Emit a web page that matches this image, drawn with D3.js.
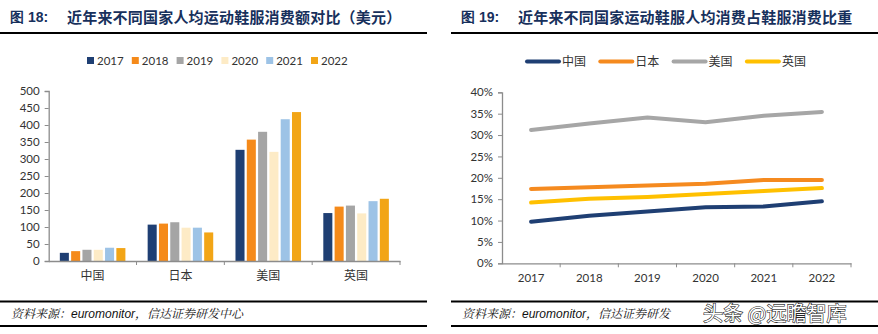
<!DOCTYPE html>
<html>
<head>
<meta charset="utf-8">
<script src="https://cdn.jsdelivr.net/npm/d3@7/dist/d3.min.js"></script>
<style>
  body { margin: 0; background: #fff; }
  svg { display: block; }
  text { font-family: Lato, "Noto Sans CJK SC", sans-serif; }
</style>
</head>
<body>
<svg id="chart" width="878" height="334"></svg>
<script>
  'use strict';

  // chart 18: spend per person (USD)
  var countries = ['中国', '日本', '美国', '英国'];
  var years = ['2017', '2018', '2019', '2020', '2021', '2022'];
  var spend2017 = [24, 107, 327, 141];
  var spend2018 = [29, 110, 357, 160];
  var spend2019 = [33, 114, 380, 163];
  var spend2020 = [33, 98, 321, 140];
  var spend2021 = [39, 98, 417, 176];
  var spend2022 = [38, 84, 438, 183];
  var spendTicks = [0, 50, 100, 150, 200, 250, 300, 350, 400, 450, 500];

  // chart 19: share of footwear & apparel spend (%)
  var shareChina = [9.7, 11.1, 12.1, 13.1, 13.3, 14.5];
  var shareJapan = [17.4, 17.8, 18.2, 18.6, 19.5, 19.5];
  var shareUS = [31.2, 32.7, 34.1, 33.0, 34.5, 35.4];
  var shareUK = [14.2, 15.1, 15.5, 16.2, 16.9, 17.6];
  var shareTicks = [0, 5, 10, 15, 20, 25, 30, 35, 40];

  var yearColors = ['#1f3f73', '#f58a1a', '#a5a5a5', '#fdebc6', '#9dc3e6', '#f2a516'];
  var lineColors = ['#1f3f73', '#f58a1f', '#a6a6a6', '#ffc000'];
  var titleColor = '#17305c';
  var axisColor = '#8c8c8c';
  var textColor = '#333';

  var svg = d3.select('#chart');

  // ---- headers and footers ----
  function frame(x0, x1, fig, title, footer) {
    svg.append('text')
      .attr('x', x0 + 10).attr('y', 22)
      .attr('fill', titleColor)
      .style('font-family', '"Liberation Sans", Arial, sans-serif')
      .style('font-weight', 'bold').style('font-size', '14px')
      .text(fig);
    svg.append('text')
      .attr('x', x0 + 67).attr('y', 22.5)
      .attr('fill', titleColor)
      .style('font-family', '"Noto Sans CJK SC", sans-serif')
      .style('font-weight', 'bold').style('font-size', '15px')
      .style('letter-spacing', '0.2px')
      .text(title);
    svg.append('rect').attr('x', x0).attr('y', 32).attr('width', x1 - x0).attr('height', 2).attr('fill', '#000');
    svg.append('rect').attr('x', x0).attr('y', 300.5).attr('width', x1 - x0).attr('height', 2).attr('fill', '#000');
    svg.append('rect').attr('x', x0).attr('y', 325).attr('width', x1 - x0).attr('height', 2).attr('fill', '#000');
    var ft = svg.append('text')
      .attr('x', x0 + 11).attr('y', 318)
      .style('font-size', '12px').attr('fill', '#111');
    ft.append('tspan')
      .style('font-family', '"Noto Serif CJK SC", "Noto Sans CJK SC", serif')
      .style('font-style', 'italic')
      .text('资料来源：');
    ft.append('tspan')
      .style('font-family', '"Liberation Sans", Arial, sans-serif')
      .style('font-style', 'italic')
      .text('euromonitor');
    ft.append('tspan')
      .style('font-family', '"Noto Serif CJK SC", "Noto Sans CJK SC", serif')
      .style('font-style', 'italic')
      .text(footer);
  }

  frame(0, 427, '图 18:', '近年来不同国家人均运动鞋服消费额对比（美元）', '，信达证券研发中心');
  frame(451, 878, '图 19:', '近年来不同国家运动鞋服人均消费占鞋服消费比重', '，信达证券研发');

  // ---- left: grouped bars ----
  var spendSeries = [spend2017, spend2018, spend2019, spend2020, spend2021, spend2022];
  var x0 = d3.scaleBand().domain(countries).range([48.7, 400]);
  var x1 = d3.scaleBand().domain(years).range([10, x0.bandwidth() - 10]).paddingInner(0.2).paddingOuter(0.1);
  var yL = d3.scaleLinear().domain([0, 500]).range([261, 91]);

  var left = svg.append('g');

  var yAxisL = left.append('g')
    .attr('transform', 'translate(48.7,0)')
    .call(d3.axisLeft(yL).tickValues(spendTicks).tickSize(4).tickPadding(5));

  var groups = left.selectAll('g.country')
    .data(countries)
    .enter()
    .append('g')
    .attr('class', 'country')
    .attr('transform', function(d) { return 'translate(' + x0(d) + ',0)'; });

  groups.selectAll('rect')
    .data(function(d, i) {
      return years.map(function(y, j) { return { year: y, value: spendSeries[j][i], j: j }; });
    })
    .enter()
    .append('rect')
    .attr('x', function(d) { return x1(d.year); })
    .attr('width', x1.bandwidth())
    .attr('y', function(d) { return yL(d.value); })
    .attr('height', function(d) { return yL(0) - yL(d.value); })
    .attr('fill', function(d) { return yearColors[d.j]; });

  var xAxisL = left.append('g')
    .attr('transform', 'translate(0,261)')
    .call(d3.axisBottom(x0).tickSize(0).tickPadding(10));
  xAxisL.selectAll('text').style('font-family', '"Noto Sans CJK SC", sans-serif').style('font-size', '12px');
  left.selectAll('line.sep')
    .data(countries)
    .enter()
    .append('line')
    .attr('class', 'sep')
    .attr('x1', function(d) { return x0(d) + x0.bandwidth(); })
    .attr('x2', function(d) { return x0(d) + x0.bandwidth(); })
    .attr('y1', 261).attr('y2', 265)
    .attr('stroke', axisColor);

  [yAxisL, xAxisL].forEach(function(a) {
    a.select('.domain').attr('stroke', axisColor).attr('stroke-width', 1.3);
    a.selectAll('.tick line').attr('stroke', axisColor);
    a.selectAll('.tick text').attr('fill', textColor);
  });
  yAxisL.selectAll('text').style('font-size', '11.5px');

  var legL = left.selectAll('g.leg')
    .data(years)
    .enter()
    .append('g')
    .attr('class', 'leg')
    .attr('transform', function(d, i) { return 'translate(' + (87 + i * 44.8) + ',57)'; });
  legL.append('rect').attr('width', 7).attr('height', 7)
    .attr('fill', function(d, i) { return yearColors[i]; });
  legL.append('text').attr('x', 10).attr('y', 7.5)
    .style('font-size', '11.5px').attr('fill', textColor)
    .text(function(d) { return d; });

  // ---- right: lines ----
  var shareSeries = [shareChina, shareJapan, shareUS, shareUK];
  var xR = d3.scaleBand().domain(years).range([502, 851]);
  var yR = d3.scaleLinear().domain([0, 40]).range([263.3, 92.3]);

  var right = svg.append('g');

  var yAxisR = right.append('g')
    .attr('transform', 'translate(502,0)')
    .call(d3.axisLeft(yR).tickValues(shareTicks).tickSize(4).tickPadding(5)
      .tickFormat(function(d) { return d + '%'; }));

  var xAxisR = right.append('g')
    .attr('transform', 'translate(0,263.3)')
    .call(d3.axisBottom(xR).tickSize(0).tickPadding(11));
  right.selectAll('line.sep')
    .data(years)
    .enter()
    .append('line')
    .attr('class', 'sep')
    .attr('x1', function(d) { return xR(d) + xR.bandwidth(); })
    .attr('x2', function(d) { return xR(d) + xR.bandwidth(); })
    .attr('y1', 263.3).attr('y2', 267.3)
    .attr('stroke', axisColor);

  [yAxisR, xAxisR].forEach(function(a) {
    a.select('.domain').attr('stroke', axisColor).attr('stroke-width', 1.3);
    a.selectAll('.tick line').attr('stroke', axisColor);
    a.selectAll('.tick text').attr('fill', textColor).style('font-size', '11.5px');
  });

  var line = d3.line()
    .x(function(d, i) { return xR(years[i]) + xR.bandwidth() / 2; })
    .y(function(d) { return yR(d); });

  right.selectAll('path.series')
    .data(shareSeries)
    .enter()
    .append('path')
    .attr('class', 'series')
    .attr('d', line)
    .attr('fill', 'none')
    .attr('stroke', function(d, i) { return lineColors[i]; })
    .attr('stroke-width', 4)
    .attr('stroke-linecap', 'round');

  var legR = right.selectAll('g.leg')
    .data(countries)
    .enter()
    .append('g')
    .attr('class', 'leg')
    .attr('transform', function(d, i) { return 'translate(' + (527 + i * 73.3) + ',61.5)'; });
  legR.append('line').attr('x1', 0).attr('x2', 32)
    .attr('stroke', function(d, i) { return lineColors[i]; })
    .attr('stroke-width', 4).attr('stroke-linecap', 'round');
  legR.append('text').attr('x', 35).attr('y', 4.5)
    .style('font-family', '"Noto Sans CJK SC", sans-serif')
    .style('font-size', '12px').attr('fill', textColor)
    .text(function(d) { return d; });

  // watermark
  svg.append('text')
    .attr('x', 703).attr('y', 321)
    .style('font-family', '"Noto Sans CJK SC", sans-serif')
    .style('font-size', '20px')
    .attr('fill', '#fff').attr('stroke', '#222').attr('stroke-width', 1.2)
    .attr('paint-order', 'stroke')
    .text('头条 @远瞻智库');
</script>
</body>
</html>
